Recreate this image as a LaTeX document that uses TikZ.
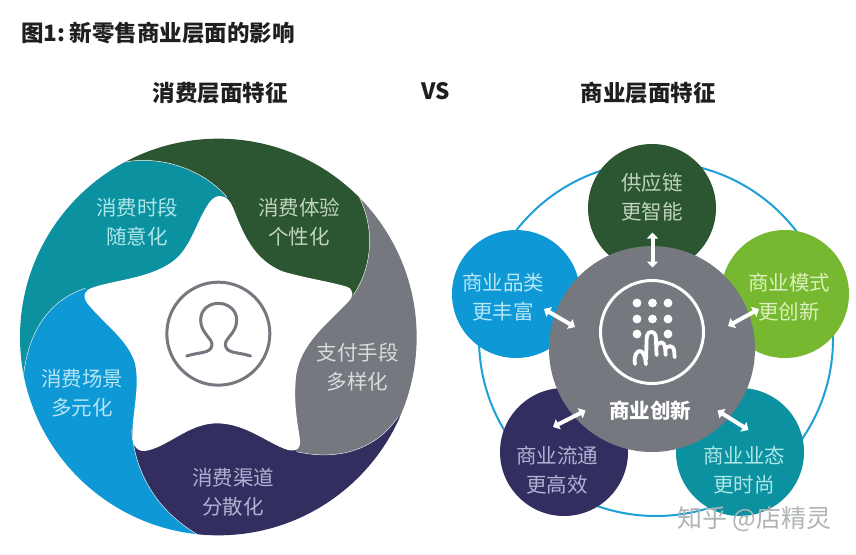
\documentclass[tikz,border=0pt]{standalone}
\usepackage{fontspec}
\setmainfont{Noto Sans CJK SC}
\usetikzlibrary{arrows.meta}
\definecolor{cgreen}{HTML}{2C5531}
\definecolor{cteal}{HTML}{0B919F}
\definecolor{cgray}{HTML}{75787E}
\definecolor{cnavy}{HTML}{322F60}
\definecolor{cblue}{HTML}{0E98D5}
\definecolor{clime}{HTML}{76B82F}
\definecolor{cring}{HTML}{1E9FD8}
\definecolor{tgreen}{HTML}{BFD4BC}
\definecolor{tteal}{HTML}{AEE6E8}
\definecolor{tgray}{HTML}{DADBDD}
\definecolor{tnavy}{HTML}{B4AFD2}
\definecolor{tblue}{HTML}{B5E6F6}
\definecolor{tlime}{HTML}{DCF0BE}
\definecolor{cmark}{HTML}{B0B4B7}
\tikzset{
  lab/.style={align=center,inner sep=0pt,font=\fontsize{20.5}{29}\selectfont},
  head/.style={inner sep=0pt,font=\fontsize{22.5}{26}\selectfont\bfseries,text=black!88},
  sat/.style={circle,inner sep=0pt,minimum size=128pt},
  twoway/.style={white,line width=4pt,{Triangle[width=11pt,length=6pt]}-{Triangle[width=11pt,length=6pt]}},
  seam/.style={white!80!cgray,line width=0.5pt},
  icon/.style={cgray,line width=3pt,line cap=round,line join=round},
  dot/.style={circle,fill=white,inner sep=0pt,minimum size=8.8pt},
  finger/.style={white,line width=3.8pt,line cap=round,line join=round},
  zl/.style={x=0.33333pt,y=-0.33333pt}
}
\begin{document}
\begin{tikzpicture}[x=1pt,y=-1pt]
\useasboundingbox (0,0) rectangle (856,554);
\fill[white] (0,0) rectangle (856,554);
% headings
\node[head,anchor=west] (title) at (21,33) {图1:\hspace{4.5pt}新零售商业层面的影响};
\node[head] (hleft) at (220,93) {消费层面特征};
\node[head] (hvs) at (436,91) {VS};
\node[head] (hright) at (648,93) {商业层面特征};
% left wheel
\begin{scope}[yshift=-130pt,zl]
\begin{scope}
\clip (655,621) circle [radius=595];
\fill[cgreen] (655,620) -- (680,200) .. controls (600,110) and (470,75) .. (365,98) -- (283,-50) -- (1260,-50) -- (1060,170) .. controls (1125,270) and (1125,400) .. (1060,495) -- cycle;
\fill[cgray] (655,620) -- (1060,495) .. controls (1125,400) and (1125,270) .. (1060,170) -- (1260,-50) -- (1700,-50) -- (1700,1085) -- (1195,860) .. controls (1120,970) and (1000,990) .. (890,965) -- cycle;
\fill[cnavy] (655,620) -- (890,965) .. controls (1000,990) and (1120,970) .. (1195,860) -- (1700,1085) -- (1700,1900) -- (515,1900) -- (590,1212) .. controls (470,1140) and (405,1030) .. (395,900) -- cycle;
\fill[cblue] (655,620) -- (395,900) .. controls (405,1030) and (470,1140) .. (590,1212) -- (515,1900) -- (-500,1900) -- (-500,857) -- (70,740) .. controls (85,600) and (150,510) .. (255,475) -- cycle;
\fill[cteal] (655,620) -- (255,475) .. controls (150,510) and (85,600) .. (70,740) -- (-500,857) -- (-500,-50) -- (283,-50) -- (365,98) .. controls (470,75) and (600,110) .. (680,200) -- cycle;
\draw[seam] (680,200) .. controls (600,110) and (470,75) .. (365,98);
\draw[seam] (1060,495) .. controls (1125,400) and (1125,270) .. (1060,170);
\draw[seam] (890,965) .. controls (1000,990) and (1120,970) .. (1195,860);
\draw[seam] (395,900) .. controls (405,1030) and (470,1140) .. (590,1212);
\draw[seam] (255,475) .. controls (150,510) and (85,600) .. (70,740);
\end{scope}
% star
\fill[white] (660,198) .. controls (680,198) and (692,215) .. (700,235)
 .. controls (730,310) and (760,390) .. (850,425)
 .. controls (920,445) and (990,455) .. (1040,470)
 .. controls (1062,478) and (1062,498) .. (1045,515)
 .. controls (985,580) and (900,640) .. (888,740)
 .. controls (880,820) and (893,880) .. (900,930)
 .. controls (904,962) and (880,968) .. (850,955)
 .. controls (790,930) and (730,880) .. (650,880)
 .. controls (570,880) and (510,945) .. (445,961)
 .. controls (415,970) and (396,950) .. (397,915)
 .. controls (397,850) and (420,770) .. (405,700)
 .. controls (385,630) and (310,580) .. (262,520)
 .. controls (245,495) and (255,480) .. (280,472)
 .. controls (350,448) and (460,445) .. (530,385)
 .. controls (580,335) and (590,270) .. (630,215)
 .. controls (640,203) and (650,198) .. (660,198) -- cycle;
% person icon
\node[circle,draw=cgray,line width=3pt,minimum size=103pt,inner sep=0pt] (person) at (655,611) {};
\draw[icon] (560,678) .. controls (600,665) and (632,672) .. (636,645)
 .. controls (638,625) and (602,610) .. (602,570)
 .. controls (602,538) and (628,520) .. (655,520)
 .. controls (682,520) and (710,538) .. (710,570)
 .. controls (710,610) and (674,625) .. (676,645)
 .. controls (680,672) and (712,665) .. (752,678);
\end{scope}
\node[lab,text=tteal] (w1) at (137,222.5) {消费时段\\随意化};
\node[lab,text=tgreen] (w2) at (299,222.5) {消费体验\\个性化};
\node[lab,text=tgray] (w3) at (357.5,367.5) {支付手段\\多样化};
\node[lab,text=tblue] (w4) at (82,393) {消费场景\\多元化};
\node[lab,text=tnavy] (w5) at (233,492) {消费渠道\\分散化};
% right diagram
\node[circle,draw=cring,line width=2pt,minimum size=354pt,inner sep=0pt] (ring) at (656,339) {};
\node[sat,fill=cgreen] (s1) at (652,208) {};
\node[sat,fill=cblue] (s2) at (516,294) {};
\node[sat,fill=clime] (s3) at (785,294) {};
\node[sat,fill=cnavy] (s4) at (564,452) {};
\node[sat,fill=cteal] (s5) at (740,452) {};
\node[circle,fill=cgray,inner sep=0pt,minimum size=206pt] (hub) at (652,349) {};
\node[lab,text=tgreen] (t1) at (652,197) {供应链\\更智能};
\node[lab,text=tblue] (t2) at (503,297) {商业品类\\更丰富};
\node[lab,text=tlime] (t3) at (789,297) {商业模式\\更创新};
\node[lab,text=tnavy] (t4) at (557,470) {商业流通\\更高效};
\node[lab,text=tteal] (t5) at (744,470) {商业业态\\更时尚};
\node[lab,text=white,font=\fontsize{20.5}{24}\selectfont\bfseries] (t0) at (650,411) {商业创新};
% arrows
\coordinate (a1o) at (652.5,232.5);
\coordinate (a1i) at (652.5,267.5);
\coordinate (a2o) at (544,309);
\coordinate (a2i) at (575,327);
\coordinate (a3o) at (759,309);
\coordinate (a3i) at (728,326);
\coordinate (a4o) at (553,427);
\coordinate (a4i) at (585.5,410.5);
\coordinate (a5o) at (748.5,430);
\coordinate (a5i) at (717.5,410.5);
\draw[twoway] (a1o) -- (a1i);
\draw[twoway] (a2o) -- (a2i);
\draw[twoway] (a3o) -- (a3i);
\draw[twoway] (a4o) -- (a4i);
\draw[twoway] (a5o) -- (a5i);
% touch icon
\node[circle,draw=white,line width=3pt,minimum size=103pt,inner sep=0pt] (touch) at (652,332) {};
\foreach \i/\x/\y in {1/637/303,2/652.5/303,3/668/303,4/637/319,5/652.5/319,6/668/319,7/637/334,8/668/334}
  \node[dot] (d\i) at (\x,\y) {};
\begin{scope}[xshift=590pt,yshift=-270pt,zl]
\draw[finger]
 (135,282) .. controls (130,255) and (142,243) .. (150,243) .. controls (160,243) and (166,262) .. (168,283);
\draw[finger]
 (168,268) .. controls (170,240) and (168,215) .. (171,197) .. controls (174,182) and (194,182) .. (197,197) .. controls (199,215) and (198,235) .. (200,255);
\draw[finger]
 (199,228) .. controls (205,215) and (222,212) .. (225,230) -- (227,255);
\draw[finger]
 (226,238) .. controls (232,225) and (250,225) .. (252,240) -- (254,262);
\end{scope}
% watermark
\node[inner sep=0pt,text=cmark,font=\fontsize{25}{28}\selectfont] (mark) at (754.5,519) {知乎 @店精灵};
\end{tikzpicture}
\end{document}
